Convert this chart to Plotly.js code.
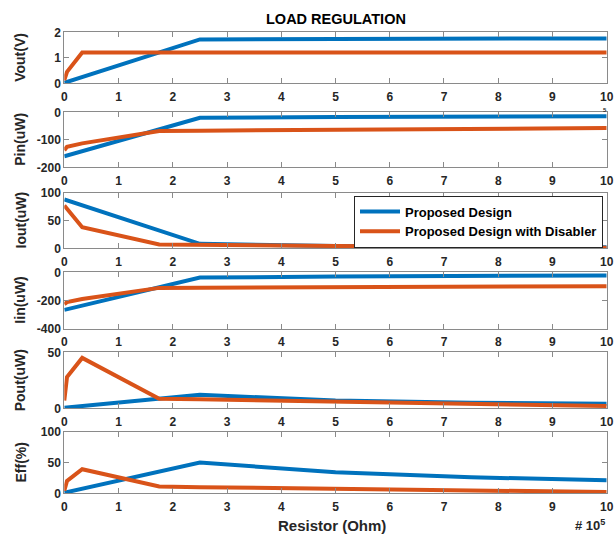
<!DOCTYPE html>
<html>
<head>
<meta charset="utf-8">
<script src="https://cdn.plot.ly/plotly-3.0.1.min.js"></script>
<style>html,body{margin:0;padding:0;background:#fff;}#chart{width:614px;height:535px;}</style>
</head>
<body>
<div id="chart"></div>
<script>
// Resistor values in units of 1e5 Ohm
const xBlue   = [0, 2.5, 5, 7.5, 10];
const xOrange = [0, 0.05, 0.33, 1.75, 2.5, 5, 7.5, 10];

const voutBlue   = [0.02, 1.72, 1.74, 1.75, 1.76];
const voutOrange = [0.12, 0.45, 1.21, 1.21, 1.21, 1.21, 1.21, 1.21];

const pinBlue   = [-160, -20, -17, -15, -14];
const pinOrange = [-138, -125, -113, -68, -67, -63, -60, -57];

const ioutBlue   = [88, 8, 4, 3, 2];
const ioutOrange = [77, 71, 38, 7, 6, 4, 3, 1];

const iinBlue   = [-265, -37, -30, -26, -22];
const iinOrange = [-225, -210, -188, -110, -109, -106, -102, -98];

const poutBlue   = [0.5, 12, 7, 5, 4];
const poutOrange = [7, 28, 45, 8.5, 8, 6, 4, 2];

const effBlue   = [1, 50, 34, 26, 21];
const effOrange = [4, 20, 39, 11, 10, 7.5, 5, 2];

const seriesNames = ["Proposed Design", "Proposed Design with Disabler"];
const panelTitles = ["Vout(V)", "Pin(uW)", "Iout(uW)", "Iin(uW)", "Pout(uW)", "Eff(%)"];
const xTickVals = [0,1,2,3,4,5,6,7,8,9,10];
const xTickText = ["0","1","2","3","4","5","6","7","8","9","10"];
const yRanges = [[0,2],[-200,0],[0,100],[-400,0],[0,50],[0,100]];
const yTickVals = [[0,1,2],[-200,-100,0],[0,50,100],[-400,-200,0],[0,50],[0,50,100]];
const yTickText = [["0","1","2"],["-200","-100","0"],["0","50","100"],["-400","-200","0"],["0","50"],["0","50","100"]];
const chartTitle = "LOAD REGULATION";
const xTitle = "Resistor (Ohm)";
const expText = "# 10<sup>5</sup>";
const hiddenExp = "5";

const blueSeries = [voutBlue, pinBlue, ioutBlue, iinBlue, poutBlue, effBlue];
const orangeSeries = [voutOrange, pinOrange, ioutOrange, iinOrange, poutOrange, effOrange];

const W = 614, H = 535;
const xLeft = 64.3, xRight = 606.7;
const panelPx = [[32.3,83.3],[112.3,167.3],[192.7,248.3],[272.3,329],[352.3,408.3],[431.7,493.3]];

const BLUE = "#0072BD", ORANGE = "#D95319";
const FONT = "Liberation Sans, Arial, sans-serif";
const TXT = "#262626";
const AXC = "#8a8a8a";

const traces = [];
const layout = {
  width: W, height: H,
  margin: {l:0, r:0, t:0, b:0},
  paper_bgcolor: "#fff", plot_bgcolor: "#fff",
  showlegend: true,
  legend: {
    x: 603/W, y: 1 - 221.5/H, xanchor: "right", yanchor: "middle",
    bgcolor: "#fff", bordercolor: "#262626", borderwidth: 1,
    font: {family: FONT, size: 13, color: "#000", weight: "bold"},
    tracegroupgap: 0, itemwidth: 40, traceorder: "normal"
  },
  annotations: []
};

for (let i = 0; i < 6; i++) {
  const s = i === 0 ? "" : String(i+1);
  traces.push({x: xBlue, y: blueSeries[i], xaxis: "x"+s, yaxis: "y"+s, mode: "lines",
    line: {color: BLUE, width: 4}, name: seriesNames[0], showlegend: i === 2});
  traces.push({x: xOrange, y: orangeSeries[i], xaxis: "x"+s, yaxis: "y"+s, mode: "lines",
    line: {color: ORANGE, width: 4}, name: seriesNames[1], showlegend: i === 2});
  const top = panelPx[i][0], bot = panelPx[i][1];
  const dom = [1 - bot/H, 1 - top/H];
  layout["xaxis"+s] = {
    domain: [xLeft/W, xRight/W], anchor: "y"+s, range: [0,10],
    tickmode: "array", tickvals: xTickVals, ticktext: xTickText,
    ticks: "inside", ticklen: 5, tickcolor: AXC, tickwidth: 1,
    showline: true, linecolor: AXC, linewidth: 1, mirror: "ticks",
    showgrid: false, zeroline: false, automargin: false, ticklabelstandoff: 2,
    tickfont: {family: FONT, size: 12, color: TXT, weight: "bold"}
  };
  layout["yaxis"+s] = {
    domain: dom, anchor: "x"+s, range: yRanges[i],
    tickmode: "array", tickvals: yTickVals[i], ticktext: yTickText[i],
    ticks: "inside", ticklen: 5, tickcolor: AXC, tickwidth: 1,
    showline: true, linecolor: AXC, linewidth: 1, mirror: "ticks",
    showgrid: false, zeroline: false, automargin: false,
    tickfont: {family: FONT, size: 12, color: TXT, weight: "bold"}
  };
  layout.annotations.push({
    text: panelTitles[i], xref: "paper", yref: "paper",
    x: 20/W, y: 1 - (top+bot)/2/H, xanchor: "center", yanchor: "middle",
    textangle: -90, showarrow: false,
    font: {family: FONT, size: 14, color: TXT, weight: "bold"}
  });
}

layout.annotations.push({
  text: chartTitle, xref: "paper", yref: "paper", x: (xLeft+xRight)/2/W, y: 1 - 19/H,
  xanchor: "center", yanchor: "middle", showarrow: false,
  font: {family: FONT, size: 14.5, color: "#000", weight: "bold"}
});
layout.annotations.push({
  text: xTitle, xref: "paper", yref: "paper", x: 332/W, y: 1 - 525/H,
  xanchor: "center", yanchor: "middle", showarrow: false,
  font: {family: FONT, size: 15, color: TXT, weight: "bold"}
});
layout.annotations.push({
  text: expText, xref: "paper", yref: "paper", x: 607/W, y: 1 - 525/H,
  xanchor: "right", yanchor: "middle", showarrow: false,
  font: {family: FONT, size: 13, color: TXT, weight: "bold"}
});
layout.annotations.push({
  text: hiddenExp, xref: "paper", yref: "paper", x: 605/W, y: 1 - 110/H,
  xanchor: "center", yanchor: "middle", showarrow: false,
  font: {family: FONT, size: 6, color: TXT, weight: "bold"}
});

Plotly.newPlot("chart", traces, layout, {displayModeBar: false, staticPlot: true});
</script>
</body>
</html>
